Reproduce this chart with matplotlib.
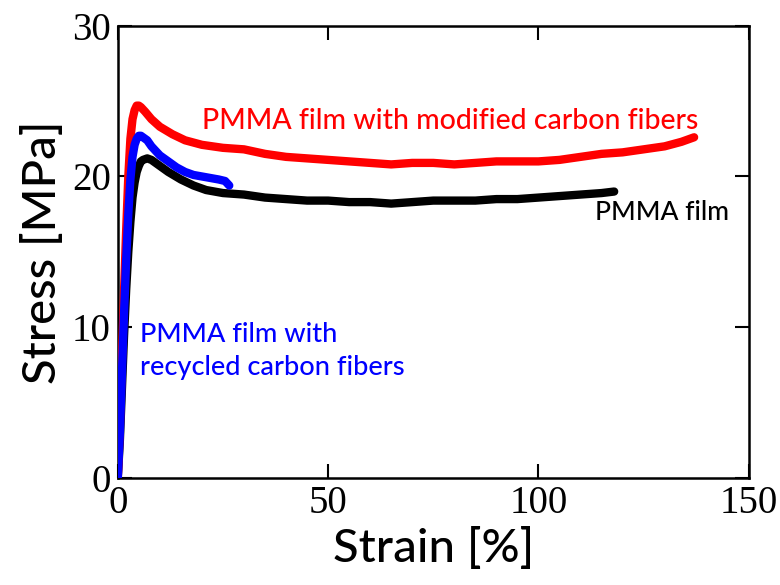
import matplotlib
matplotlib.use('Agg')
import matplotlib.pyplot as plt

# PMMA film with modified carbon fibers (red)
red_strain = [0, 0.5, 1.0, 1.5, 2.0, 2.5, 3.0, 3.5, 4.0, 4.5, 5.0, 5.5, 6.5, 8, 10, 13, 16, 20, 25, 30, 35, 40,
              45, 50, 55, 60, 65, 70, 75, 80, 85, 90, 95, 100, 105, 110, 115, 120, 125, 130, 134, 137]
red_stress = [0, 3.5, 8.0, 12.5, 16.5, 20.0, 22.5, 23.8, 24.4, 24.7, 24.7, 24.6, 24.3, 23.8, 23.3, 22.8, 22.4,
              22.1, 21.9, 21.8, 21.5, 21.3, 21.2, 21.1, 21.0, 20.9, 20.8, 20.9, 20.9, 20.8, 20.9, 21.0, 21.0,
              21.0, 21.1, 21.3, 21.5, 21.6, 21.8, 22.0, 22.3, 22.6]

# PMMA film with recycled carbon fibers (blue)
blue_strain = [0, 0.5, 1.0, 1.5, 2.0, 2.5, 3.0, 3.5, 4.0, 4.5, 5.0, 5.5, 6.0, 7, 8, 10, 12, 14, 16, 18, 20, 22,
               24, 25.5, 26.5]
blue_stress = [0, 3.0, 7.0, 11.0, 14.5, 17.5, 19.8, 21.3, 22.1, 22.5, 22.7, 22.7, 22.6, 22.4, 22.0, 21.4, 21.0,
               20.6, 20.3, 20.1, 20.0, 19.9, 19.8, 19.7, 19.4]

# PMMA film (black)
black_strain = [0, 0.5, 1.0, 1.5, 2.0, 2.5, 3.0, 3.5, 4.0, 4.5, 5.0, 5.5, 6.0, 7, 8, 10, 12, 15, 18, 21, 25, 30,
                35, 40, 45, 50, 55, 60, 65, 70, 75, 80, 85, 90, 95, 100, 105, 110, 115, 118]
black_stress = [0, 2.5, 6.0, 9.5, 12.5, 15.0, 17.0, 18.6, 19.6, 20.3, 20.7, 21.0, 21.1, 21.2, 21.1, 20.7, 20.3,
                19.8, 19.4, 19.1, 18.9, 18.8, 18.6, 18.5, 18.4, 18.4, 18.3, 18.3, 18.2, 18.3, 18.4, 18.4, 18.4,
                18.5, 18.5, 18.6, 18.7, 18.8, 18.9, 19.0]

fig, ax = plt.subplots(figsize=(7.8, 5.85), dpi=100)
fig.subplots_adjust(left=0.151, right=0.960, top=0.956, bottom=0.183)

ax.plot(black_strain, black_stress, color='black', lw=6, solid_capstyle='round', zorder=2)
ax.plot(red_strain, red_stress, color='#ff0000', lw=6, solid_capstyle='round', zorder=3)
ax.plot(blue_strain, blue_stress, color='#0000ff', lw=6, solid_capstyle='round', zorder=4)

lbl_font = 'Lato'
ax.text(20, 23.7, 'PMMA film with modified carbon fibers', color='#ff0000', fontsize=20.5,
        family=lbl_font, fontweight='medium', va='center', ha='left')
ax.text(113.5, 17.6, 'PMMA film', color='black', fontsize=19, family=lbl_font, fontweight='medium',
        va='center', ha='left')
ax.text(5.2, 8.4, 'PMMA film with\nrecycled carbon fibers', color='#0000ff', fontsize=19.5,
        family=lbl_font, fontweight='medium', va='center', ha='left', linespacing=1.4)

ax.set_xlim(0, 150)
ax.set_ylim(0, 30)
ax.set_xticks([0, 50, 100, 150])
ax.set_yticks([0, 10, 20, 30])
ax.tick_params(direction='in', length=10, width=1.5, top=True, right=True, labelsize=28, pad=5)
for lab in ax.get_xticklabels() + ax.get_yticklabels():
    lab.set_family('Liberation Serif')
for sp in ax.spines.values():
    sp.set_linewidth(1.8)

ax.set_xlabel('Strain [%]', fontsize=34, family=lbl_font, fontweight='medium', labelpad=4)
ax.set_ylabel('Stress [MPa]', fontsize=34, family=lbl_font, fontweight='medium', labelpad=6)

plt.savefig('out.png', dpi=100)
